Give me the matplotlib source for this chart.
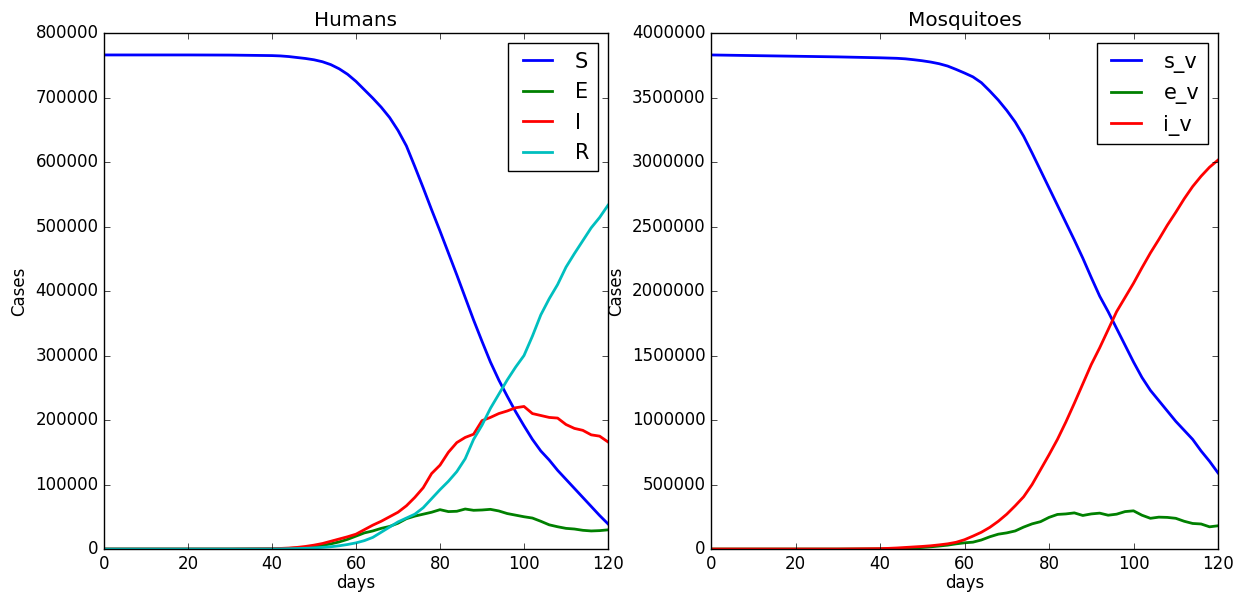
import matplotlib
matplotlib.use("Agg")
import matplotlib.pyplot as plt

plt.style.use('classic')

days = [0, 10, 20, 30, 40, 42, 44, 46, 48, 50, 52, 54, 56, 58, 60, 62, 64, 66, 68, 70,
        72, 74, 76, 78, 80, 82, 84, 86, 88, 90, 92, 94, 96, 98, 100, 102, 104, 106,
        108, 110, 112, 114, 116, 118, 120]

S = [766000, 766000, 766000, 765800, 765000, 764500, 763500, 762000, 760500, 758500,
     755500, 751000, 744500, 736000, 725000, 712000, 699000, 685000, 669000, 649000,
     625000, 593000, 560000, 526000, 493000, 459000, 425000, 390000, 355000, 322000,
     290000, 262000, 237000, 213000, 191000, 170000, 152000, 138000, 122000, 108000,
     94000, 80000, 66000, 52000, 39000]
E = [0, 0, 0, 0, 300, 500, 900, 1500, 2500, 3800, 5500, 8000, 11000, 15000, 20000,
     25000, 28000, 32000, 35000, 40000, 47000, 51000, 54000, 57000, 61000, 58000,
     58500, 62000, 60000, 60500, 61500, 59000, 55000, 52500, 50000, 48000, 43000,
     37500, 34500, 32000, 31000, 29000, 28000, 28500, 29700]
I = [0, 0, 0, 0, 500, 900, 1500, 2500, 4000, 6000, 8500, 12000, 15500, 19000, 23000,
     30000, 37000, 43000, 50000, 57000, 67000, 80000, 95000, 117000, 130000, 150000,
     165000, 173000, 178000, 199000, 204000, 210000, 214000, 219000, 221000, 210000,
     207000, 204000, 203000, 193000, 187000, 184000, 177000, 175000, 166000]
R = [0, 0, 0, 0, 100, 200, 400, 700, 1100, 1700, 2500, 3500, 5000, 7000, 9500, 13000,
     18000, 26000, 34000, 42000, 48000, 54000, 64000, 78000, 92000, 105000, 120000,
     140000, 170000, 192000, 218000, 240000, 262000, 282000, 300000, 330000, 363000,
     388000, 410000, 437000, 458000, 478000, 498000, 514000, 533000]

s_v = [3830000, 3825000, 3820000, 3815000, 3808000, 3806000, 3804000, 3800000, 3793000,
       3785000, 3775000, 3762000, 3744000, 3718000, 3690000, 3660000, 3615000, 3550000,
       3480000, 3400000, 3310000, 3200000, 3070000, 2935000, 2800000, 2665000, 2530000,
       2395000, 2255000, 2105000, 1960000, 1840000, 1710000, 1580000, 1450000, 1330000,
       1230000, 1150000, 1070000, 990000, 920000, 850000, 760000, 680000, 590000]
e_v = [0, 0, 0, 0, 1000, 2000, 3000, 5000, 8000, 12000, 17000, 23000, 30000, 40000,
       48000, 53000, 70000, 95000, 115000, 125000, 140000, 170000, 195000, 212000,
       245000, 268000, 272000, 280000, 260000, 272000, 278000, 262000, 270000, 290000,
       296000, 262000, 238000, 247000, 245000, 238000, 215000, 198000, 194000, 172000,
       180000]
i_v = [0, 0, 0, 0, 3000, 5000, 8000, 12000, 16000, 20000, 25000, 32000, 40000, 52000,
       72000, 100000, 130000, 168000, 215000, 270000, 335000, 405000, 500000, 615000,
       730000, 850000, 985000, 1130000, 1280000, 1430000, 1560000, 1700000, 1840000,
       1950000, 2060000, 2180000, 2295000, 2400000, 2510000, 2610000, 2715000, 2810000,
       2890000, 2960000, 3015000]

fig = plt.figure(figsize=(12.5, 5.95), dpi=100)
fig.patch.set_facecolor('white')
ax1 = fig.add_axes([0.0832, 0.0773, 0.4032, 0.8672])
ax2 = fig.add_axes([0.5688, 0.0773, 0.4056, 0.8672])

for lab, vals, c in [('S', S, 'b'), ('E', E, 'g'), ('I', I, 'r'), ('R', R, 'c')]:
    ax1.plot(days, vals, color=c, lw=2, label=lab)
ax1.set_xlim(0, 120)
ax1.set_ylim(0, 800000)
ax1.set_title('Humans', pad=5)
ax1.set_xlabel('days', labelpad=1)
ax1.set_ylabel('Cases')
ax1.legend(loc='upper right', fontsize=15)

for lab, vals, c in [('s_v', s_v, 'b'), ('e_v', e_v, 'g'), ('i_v', i_v, 'r')]:
    ax2.plot(days, vals, color=c, lw=2, label=lab)
ax2.set_xlim(0, 120)
ax2.set_ylim(0, 4000000)
ax2.set_title('Mosquitoes', pad=5)
ax2.set_xlabel('days', labelpad=1)
ax2.set_ylabel('Cases')
ax2.legend(loc='upper right', fontsize=15)

fig.savefig('out.png', dpi=100, facecolor='white')
